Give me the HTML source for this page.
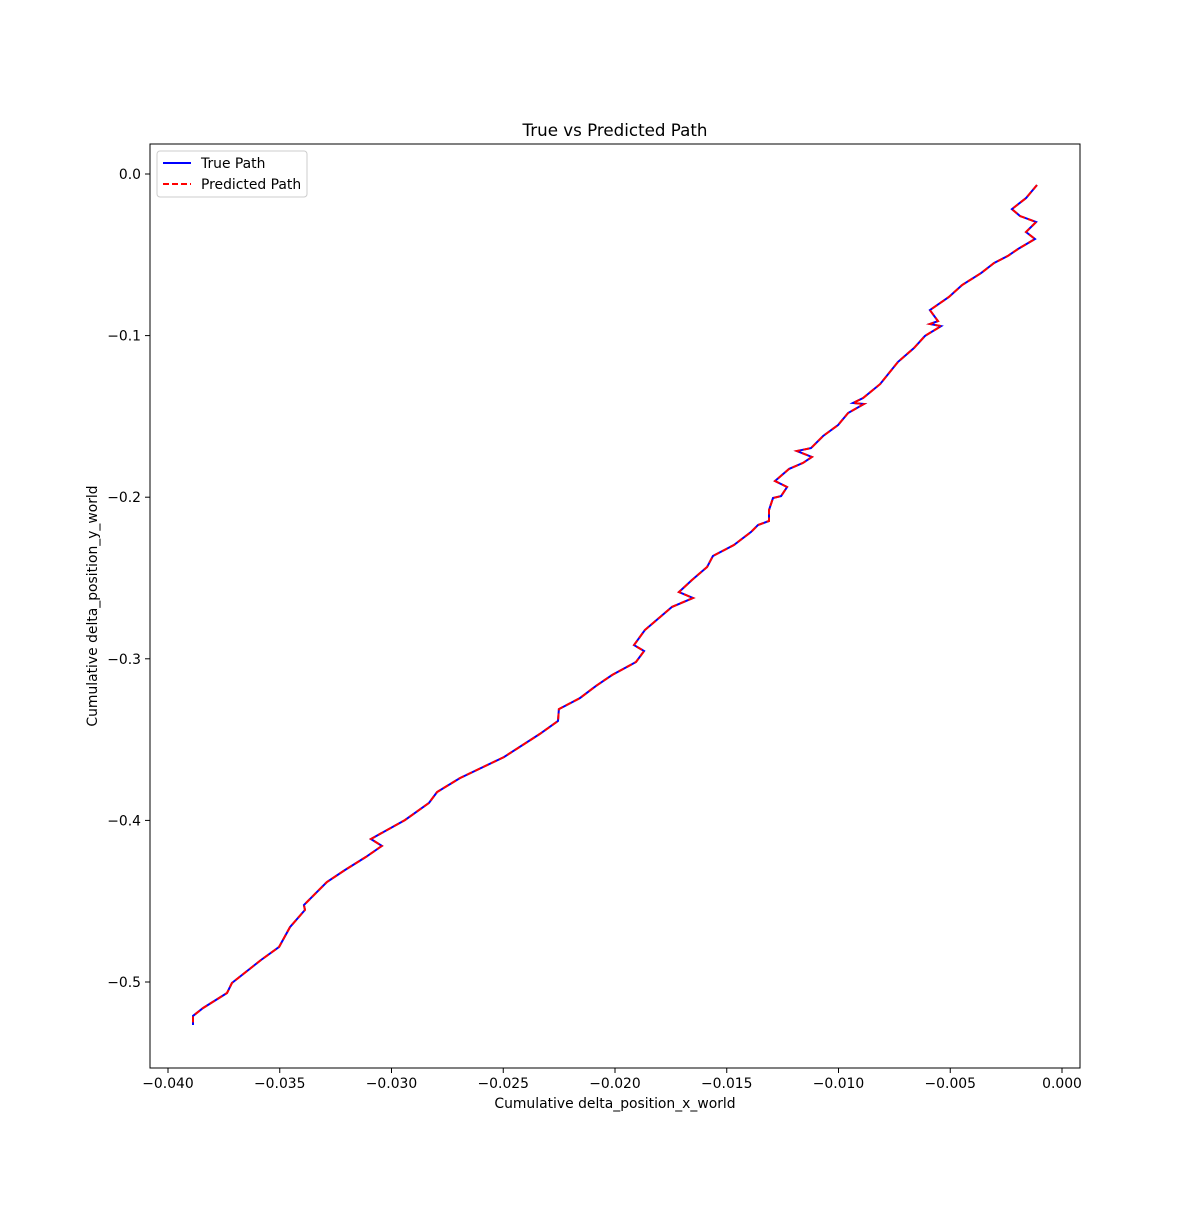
<!DOCTYPE html>
<html><head><meta charset="utf-8"><style>
body{margin:0;background:#fff;}
svg text{font-family:"DejaVu Sans","Liberation Sans",sans-serif;fill:#000;}
</style></head><body>
<svg id="chart" width="1200" height="1200" xmlns="http://www.w3.org/2000/svg">
<rect width="1200" height="1200" fill="#fff"/>
<text x="615" y="136" font-size="16.7" text-anchor="middle">True vs Predicted Path</text>
<g id="ticks"></g>
<g id="series"></g>
<rect x="150" y="144" width="930" height="924" fill="none" stroke="#000" stroke-width="1"/>
<text x="615" y="1108" font-size="13.9" text-anchor="middle">Cumulative delta_position_x_world</text>
<text x="97" y="606" font-size="13.9" text-anchor="middle" transform="rotate(-90 97 606)">Cumulative delta_position_y_world</text>
<g>
<rect x="157" y="151" width="150" height="46" rx="3" fill="#fff" stroke="#ccc"/>
<line x1="163" y1="163" x2="191" y2="163" stroke="#0000ff" stroke-width="2"/>
<text x="201" y="168" font-size="13.9">True Path</text>
<line x1="163" y1="184" x2="191" y2="184" stroke="#ff0000" stroke-width="2" stroke-dasharray="6,3"/>
<text x="201" y="189" font-size="13.9">Predicted Path</text>
</g>
</svg>
<script>
const trueX=[-0.00112,-0.00161,-0.00224,-0.00188,-0.00116,-0.00161,-0.00121,-0.00197,-0.00242,-0.00304,-0.00362,-0.00447,-0.00506,-0.00591,-0.00555,-0.00591,-0.00541,-0.00613,-0.00662,-0.00734,-0.00814,-0.00890,-0.00935,-0.00886,-0.00957,-0.01002,-0.01069,-0.01123,-0.01186,-0.01119,-0.01159,-0.01221,-0.01284,-0.01230,-0.01257,-0.01293,-0.01311,-0.01311,-0.01360,-0.01391,-0.01468,-0.01562,-0.01588,-0.01655,-0.01714,-0.01651,-0.01745,-0.01866,-0.01915,-0.01870,-0.01906,-0.02013,-0.02085,-0.02157,-0.02251,-0.02255,-0.02336,-0.02497,-0.02694,-0.02796,-0.02832,-0.02940,-0.03092,-0.03043,-0.03114,-0.03208,-0.03289,-0.03392,-0.03387,-0.03454,-0.03503,-0.03584,-0.03714,-0.03736,-0.03843,-0.03888,-0.03888];
const trueY=[-0.0068,-0.0149,-0.0217,-0.0260,-0.0297,-0.0359,-0.0402,-0.0464,-0.0507,-0.0551,-0.0613,-0.0687,-0.0761,-0.0842,-0.0910,-0.0928,-0.0941,-0.1002,-0.1077,-0.1163,-0.1300,-0.1386,-0.1417,-0.1423,-0.1479,-0.1553,-0.1621,-0.1696,-0.1714,-0.1751,-0.1788,-0.1825,-0.1900,-0.1937,-0.1993,-0.2005,-0.2079,-0.2147,-0.2172,-0.2215,-0.2296,-0.2364,-0.2432,-0.2512,-0.2587,-0.2624,-0.2679,-0.2822,-0.2915,-0.2952,-0.3020,-0.3100,-0.3168,-0.3243,-0.3311,-0.3385,-0.3465,-0.3608,-0.3738,-0.3824,-0.3892,-0.3998,-0.4115,-0.4158,-0.4226,-0.4307,-0.4381,-0.4524,-0.4554,-0.4660,-0.4783,-0.4864,-0.5006,-0.5068,-0.5161,-0.5210,-0.5266];
const predX=trueX.slice();
const predY=trueY.slice();
const xTicks=[-0.040,-0.035,-0.030,-0.025,-0.020,-0.015,-0.010,-0.005,0.000];
const xTickLabels=["\u22120.040","\u22120.035","\u22120.030","\u22120.025","\u22120.020","\u22120.015","\u22120.010","\u22120.005","0.000"];
const yTicks=[0.0,-0.1,-0.2,-0.3,-0.4,-0.5];
const yTickLabels=["0.0","\u22120.1","\u22120.2","\u22120.3","\u22120.4","\u22120.5"];

const NS="http://www.w3.org/2000/svg";
function sx(v){return 1062+v*22350;}
function sy(v){return 174-v*1616;}
const tg=document.getElementById('ticks');
xTicks.forEach((t,i)=>{
  const l=document.createElementNS(NS,'line');
  
  
  l.setAttribute('x1',sx(t));l.setAttribute('x2',sx(t));l.setAttribute('y1',1068);l.setAttribute('y2',1073);l.setAttribute('stroke','#000');
  tg.appendChild(l);
  const tx=document.createElementNS(NS,'text');
  
  
  tx.setAttribute('x',sx(t));tx.setAttribute('y',1088);tx.setAttribute('font-size','13.9');tx.setAttribute('text-anchor','middle');
  tx.textContent=xTickLabels[i];tg.appendChild(tx);
});
yTicks.forEach((t,i)=>{
  const l=document.createElementNS(NS,'line');
  
  
  l.setAttribute('x1',145);l.setAttribute('x2',150);l.setAttribute('y1',sy(t));l.setAttribute('y2',sy(t));l.setAttribute('stroke','#000');
  tg.appendChild(l);
  const tx=document.createElementNS(NS,'text');
  
  
  tx.setAttribute('x',141);tx.setAttribute('y',sy(t)+5);tx.setAttribute('font-size','13.9');tx.setAttribute('text-anchor','end');
  tx.textContent=yTickLabels[i];tg.appendChild(tx);
});
const sg=document.getElementById('series');
function pts(xs,ys){return xs.map((x,i)=>sx(x).toFixed(1)+','+sy(ys[i]).toFixed(1)).join(' ');}
const p1=document.createElementNS(NS,'polyline');


p1.setAttribute('points',pts(trueX,trueY));p1.setAttribute('fill','none');p1.setAttribute('stroke','#0000ff');p1.setAttribute('stroke-width','2');
sg.appendChild(p1);
const p2=document.createElementNS(NS,'polyline');


p2.setAttribute('points',pts(predX,predY));p2.setAttribute('fill','none');p2.setAttribute('stroke','#ff0000');p2.setAttribute('stroke-width','2');p2.setAttribute('stroke-dasharray','6,3');
sg.appendChild(p2);
</script>
</body></html>
